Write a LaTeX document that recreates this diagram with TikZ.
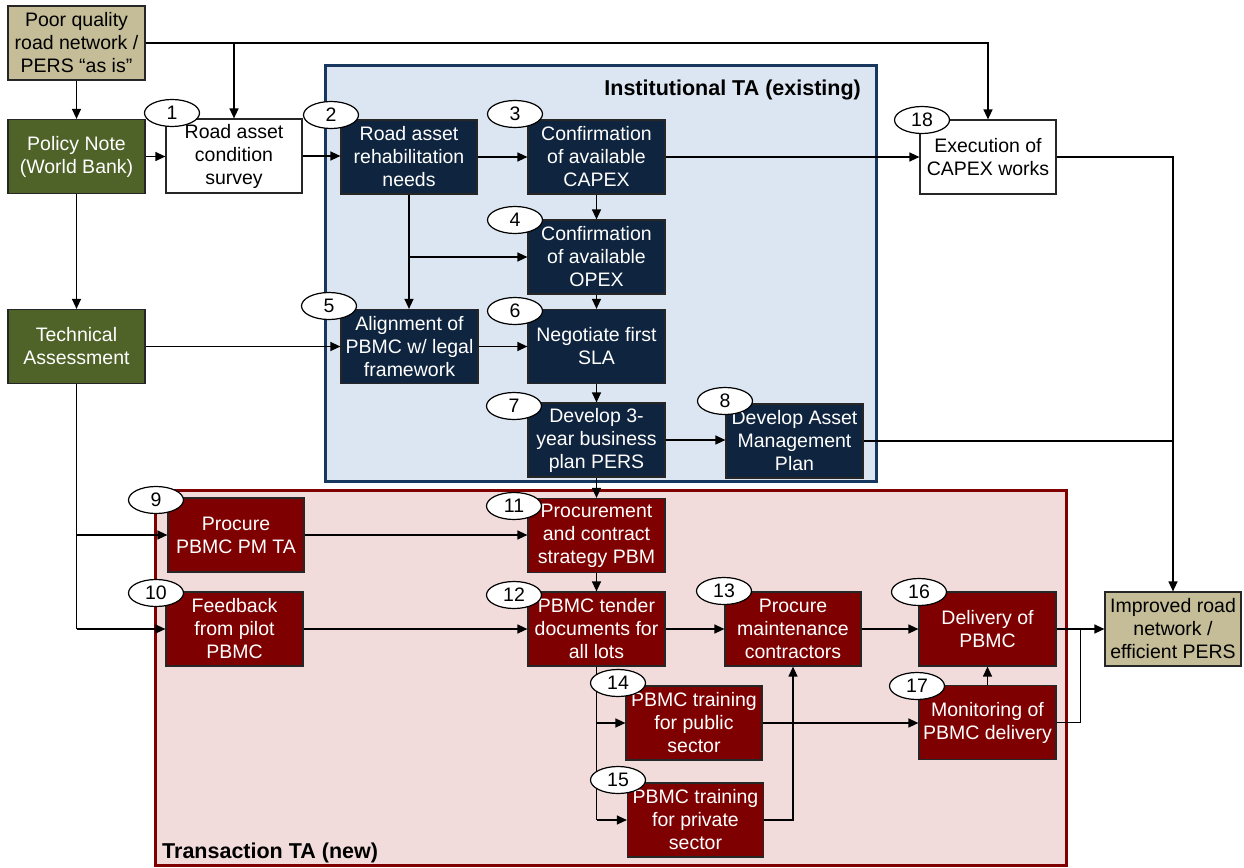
\documentclass[tikz,border=0pt]{standalone}
\usepackage{fontspec}
\setmainfont{Liberation Sans}
\usetikzlibrary{arrows.meta,calc,shapes.geometric}
\definecolor{tanfill}{HTML}{C4BD97}
\definecolor{olivefill}{HTML}{4F6228}
\definecolor{navyfill}{HTML}{0F243E}
\definecolor{redfill}{HTML}{7F0000}
\definecolor{instfill}{HTML}{DCE6F2}
\definecolor{instline}{HTML}{17375E}
\definecolor{transfill}{HTML}{F2DCDB}
\definecolor{transline}{HTML}{800000}
\tikzset{
  txt/.style={font=\fontsize{19.5}{23}\selectfont},
  title/.style={font=\bfseries\fontsize{21.5}{25}\selectfont, inner sep=0pt},
  box/.style={txt, draw=black!85, line width=1.2pt, minimum width=137pt, minimum height=74pt,
              inner sep=0pt, align=center},
  tanbox/.style={box, fill=tanfill, text=black},
  olivebox/.style={box, fill=olivefill, text=white},
  navybox/.style={box, fill=navyfill, text=white},
  redbox/.style={box, fill=redfill, text=white},
  plainbox/.style={box, fill=white, text=black},
  num/.style={txt, ellipse, draw=black, fill=white, line width=1.2pt, minimum width=55pt,
              minimum height=27pt, inner sep=0pt},
  ln/.style={line width=1.3pt, draw=black},
  arr/.style={ln, -{Triangle[length=10pt,width=9pt]}},
  group/.style={line width=3pt, inner sep=0pt}
}
\begin{document}
\begin{tikzpicture}[x=1pt,y=-1pt]
\useasboundingbox (0,0) rectangle (1244,867);

% group frames
\node[group, draw=instline, fill=instfill, minimum width=551pt, minimum height=415pt] (inst) at (600.5,273.5) {};
\node[group, draw=transline, fill=transfill, minimum width=911pt, minimum height=375pt] (trans) at (611,677.5) {};
\node[title, anchor=east] (instlabel) at (861,90) {Institutional TA (existing)};
\node[title, anchor=base west] (translabel) at (162,858) {Transaction TA (new)};

% boxes
\node[tanbox] (poor) at (76.5,43) {Poor quality\\road network /\\PERS “as is”};
\node[olivebox] (policy) at (76.5,156.5) {Policy Note\\(World Bank)};
\node[olivebox] (tech) at (76.5,346.5) {Technical\\Assessment};
\node[plainbox, minimum width=136pt] (b1) at (234,156) {Road asset\\condition\\survey};
\node[navybox, minimum width=136pt] (b2) at (409,157) {Road asset\\rehabilitation\\needs};
\node[navybox] (b3) at (596.5,157) {Confirmation\\of available\\CAPEX};
\node[navybox] (b4) at (596.5,257) {Confirmation\\of available\\OPEX};
\node[navybox] (b5) at (409.5,346.5) {Alignment of\\PBMC w/ legal\\framework};
\node[navybox] (b6) at (596.5,346.5) {Negotiate first\\SLA};
\node[navybox] (b7) at (596.5,440) {Develop 3-\\year business\\plan PERS};
\node[navybox] (b8) at (794.5,441) {Develop Asset\\Management\\Plan};
\node[plainbox, minimum width=136pt] (b18) at (988,157) {Execution of\\CAPEX works};
\node[redbox, minimum width=136pt] (b9) at (236,535) {Procure\\PBMC PM TA};
\node[redbox] (b10) at (234.5,629) {Feedback\\from pilot\\PBMC};
\node[redbox] (b11) at (596.5,535.5) {Procurement\\and contract\\strategy PBM};
\node[redbox] (b12) at (596.5,629) {PBMC tender\\documents for\\all lots};
\node[redbox, minimum width=136pt] (b13) at (793,629) {Procure\\maintenance\\contractors};
\node[redbox, minimum width=136pt] (b14) at (694,723) {PBMC training\\for public\\sector};
\node[redbox, minimum width=136pt] (b15) at (695.5,820) {PBMC training\\for private\\sector};
\node[redbox] (b16) at (987.5,629) {Delivery of\\PBMC};
\node[redbox] (b17) at (987.5,722.5) {Monitoring of\\PBMC delivery};
\node[tanbox, minimum width=136pt] (imp) at (1173,629) {Improved road\\network /\\efficient PERS};

\coordinate (join) at ($(b16.east)!0.5!(imp.west)$);

% connectors
\draw[arr] (poor.south) -- (policy.north);
\draw[arr] (poor.east) -| (b18.north);
\draw[arr] (poor.east -| b1.north) -- (b1.north);
\draw[arr] (policy.east) -- (policy.east -| b1.west);
\draw[arr] (b1.east) -- (b1.east -| b2.west);
\draw[arr] (b2.east) -- (b2.east -| b3.west);
\draw[arr] (b3.east) -- (b3.east -| b18.west);
\draw[arr] (b2.south) -- (b2.south |- b5.north);
\draw[arr] (b2.south |- b4.west) -- (b4.west);
\draw[arr] (b3.south) -- (b4.north);
\draw[arr] (b4.south) -- (b6.north);
\draw[arr] (b5.east) -- (b6.west);
\draw[arr] (b6.south) -- (b7.north);
\draw[arr] (b7.east) -- (b7.east -| b8.west);
\draw[arr] (b7.south) -- (b11.north);
\draw[arr] (b11.south) -- (b12.north);
\draw[ln] (b8.east) -- (b8.east -| imp.north);
\draw[arr] (b18.east) -| (imp.north);
\draw[arr] (policy.south) -- (tech.north);
\draw[arr] (tech.east) -- (tech.east -| b5.west);
\draw[ln] (tech.south) -- (tech.south |- b10.west);
\draw[arr] (tech.south |- b9.west) -- (b9.west);
\draw[arr] (tech.south |- b10.west) -- (b10.west);
\draw[arr] (b9.east) -- (b9.east -| b11.west);
\draw[arr] (b10.east) -- (b10.east -| b12.west);
\draw[arr] (b12.east) -- (b13.west);
\draw[arr] (b13.east) -- (b16.west);
\draw[arr] (b16.east) -- (imp.west);
\draw[ln] (b12.south) -- (b12.south |- b15.west);
\draw[arr] (b12.south |- b14.west) -- (b14.west);
\draw[arr] (b12.south |- b15.west) -- (b15.west);
\draw[arr] (b15.east) -| (b13.south);
\draw[arr] (b14.east) -- (b14.east -| b17.west);
\draw[arr] (b17.north) -- (b16.south);
\draw[ln] (b17.east) -| (join);

% step numbers
\node[num] (n1) at (172,113) {1};
\node[num] (n2) at (331,115) {2};
\node[num] (n3) at (515,114) {3};
\node[num] (n4) at (515,220) {4};
\node[num] (n5) at (329,306) {5};
\node[num] (n6) at (515,311) {6};
\node[num] (n7) at (514,406) {7};
\node[num] (n8) at (725,401) {8};
\node[num] (n18) at (922,120) {18};
\node[num] (n9) at (156,500) {9};
\node[num] (n10) at (156,593) {10};
\node[num] (n11) at (514,506) {11};
\node[num] (n12) at (514,595) {12};
\node[num] (n13) at (724,591) {13};
\node[num] (n14) at (618,683) {14};
\node[num] (n15) at (618,780) {15};
\node[num] (n16) at (919,592) {16};
\node[num] (n17) at (917,686) {17};
\end{tikzpicture}
\end{document}
